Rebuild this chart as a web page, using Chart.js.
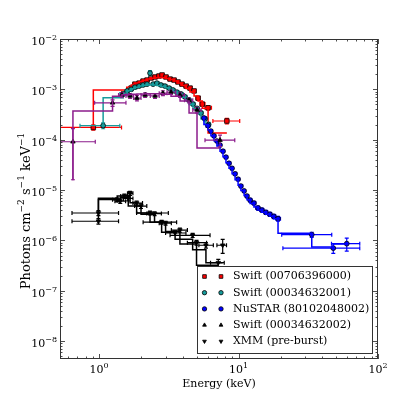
<!DOCTYPE html>
<html>
<head>
<meta charset="utf-8">
<script src="https://cdn.jsdelivr.net/npm/chart.js@4.4.1/dist/chart.umd.min.js"></script>
<style>
  html, body { margin: 0; padding: 0; background: #fff; }
  #wrap { width: 399px; height: 399px; }
</style>
</head>
<body>
<div id="wrap"><canvas id="spec" width="399" height="399"></canvas></div>
<script>
// Swift (00706396000)
const redE    = [0.91, 1.58, 1.70, 1.81, 1.94, 2.07, 2.21, 2.36, 2.52, 2.69, 2.83, 3.02, 3.23, 3.45, 3.68, 3.93, 4.21, 4.49, 4.80, 5.13, 5.50, 6.05, 8.25];
const redELo  = [0.52, 1.45, 1.64, 1.75, 1.88, 2.00, 2.14, 2.28, 2.44, 2.60, 2.76, 2.92, 3.12, 3.34, 3.56, 3.80, 4.07, 4.35, 4.65, 4.96, 5.30, 5.75, 6.55];
const redEHi  = [1.45, 1.64, 1.75, 1.88, 2.00, 2.14, 2.28, 2.44, 2.60, 2.76, 2.92, 3.12, 3.34, 3.56, 3.80, 4.07, 4.35, 4.65, 4.96, 5.30, 5.75, 6.40, 10.2];
const redF    = [1.75e-4, 8.6e-4, 1.06e-3, 1.27e-3, 1.33e-3, 1.46e-3, 1.53e-3, 1.68e-3, 1.76e-3, 1.84e-3, 1.93e-3, 1.76e-3, 1.60e-3, 1.53e-3, 1.40e-3, 1.27e-3, 1.16e-3, 1.06e-3, 9.3e-4, 6.7e-4, 5.1e-4, 4.3e-4, 2.35e-4];
const redFErr = [2e-5, 6e-5, 7e-5, 8e-5, 8e-5, 8e-5, 9e-5, 9e-5, 1e-4, 1e-4, 1e-4, 1e-4, 9e-5, 9e-5, 8e-5, 8e-5, 7e-5, 7e-5, 6e-5, 5e-5, 4e-5, 4e-5, 3e-5];
const redM    = [1.8e-4, 9.7e-4, 1.10e-3, 1.22e-3, 1.33e-3, 1.43e-3, 1.52e-3, 1.60e-3, 1.66e-3, 1.70e-3, 1.72e-3, 1.70e-3, 1.65e-3, 1.57e-3, 1.46e-3, 1.33e-3, 1.19e-3, 1.04e-3, 8.9e-4, 7.4e-4, 5.9e-4, 4.2e-4, 1.36e-4];

// Swift (00034632001)
const tealE    = [1.07, 1.49, 1.59, 1.70, 1.81, 1.94, 2.07, 2.21, 2.32, 2.44, 2.60, 2.78, 2.97, 3.18, 3.39, 3.62, 3.87, 4.13, 4.42, 4.72, 5.04, 5.38, 5.76, 6.10];
const tealELo  = [0.73, 1.41, 1.54, 1.64, 1.75, 1.88, 2.00, 2.14, 2.27, 2.38, 2.52, 2.69, 2.88, 3.07, 3.28, 3.50, 3.74, 4.00, 4.27, 4.57, 4.88, 5.21, 5.57, 5.93];
const tealEHi  = [1.41, 1.54, 1.64, 1.75, 1.88, 2.00, 2.14, 2.27, 2.38, 2.52, 2.69, 2.88, 3.07, 3.28, 3.50, 3.74, 4.00, 4.27, 4.57, 4.88, 5.21, 5.57, 5.93, 6.30];
const tealF    = [1.9e-4, 8.1e-4, 9.3e-4, 1.0e-3, 1.1e-3, 1.16e-3, 1.22e-3, 1.27e-3, 2.1e-3, 1.27e-3, 1.33e-3, 1.22e-3, 1.16e-3, 1.06e-3, 9.7e-4, 8.8e-4, 8.1e-4, 7.1e-4, 6.1e-4, 5.1e-4, 4.2e-4, 3.4e-4, 2.6e-4, 2.0e-4];
const tealFErr = [2.5e-5, 6e-5, 6e-5, 7e-5, 7e-5, 7e-5, 8e-5, 8e-5, 2.5e-4, 8e-5, 8e-5, 8e-5, 7e-5, 7e-5, 6e-5, 6e-5, 5e-5, 5e-5, 4e-5, 4e-5, 3e-5, 3e-5, 2.5e-5, 2e-5];
const tealM    = [1.9e-4, 6.8e-4, 8.4e-4, 9.4e-4, 1.03e-3, 1.10e-3, 1.16e-3, 1.20e-3, 1.22e-3, 1.23e-3, 1.22e-3, 1.19e-3, 1.14e-3, 1.07e-3, 9.9e-4, 9.0e-4, 8.0e-4, 7.0e-4, 6.0e-4, 5.0e-4, 4.1e-4, 3.3e-4, 2.6e-4, 2.0e-4];

// NuSTAR (80102048002)
const blueE    = [5.65, 6.04, 6.34, 6.67, 7.0, 7.37, 7.74, 8.13, 8.55, 8.99, 9.45, 9.93, 10.4, 10.97, 11.5, 12.1, 12.9, 13.8, 14.7, 15.7, 16.8, 17.9, 19.2, 33.5, 47.8, 59.7];
const blueELo  = [5.5, 5.85, 6.2, 6.5, 6.85, 7.2, 7.55, 7.95, 8.35, 8.8, 9.2, 9.7, 10.2, 10.7, 11.2, 11.8, 12.5, 13.3, 14.2, 15.2, 16.2, 17.3, 18.5, 20.4, 20.8, 46.4];
const blueEHi  = [5.85, 6.2, 6.5, 6.85, 7.2, 7.55, 7.95, 8.35, 8.8, 9.2, 9.7, 10.2, 10.7, 11.2, 11.8, 12.5, 13.3, 14.2, 15.2, 16.2, 17.3, 18.5, 20.0, 46.6, 74, 74];
const blueF    = [2.7e-4, 1.9e-4, 1.48e-4, 1.19e-4, 9.4e-5, 7.8e-5, 5.9e-5, 4.5e-5, 3.4e-5, 2.7e-5, 2.1e-5, 1.64e-5, 1.2e-5, 9.6e-6, 7.6e-6, 6.3e-6, 5.5e-6, 4.4e-6, 4.0e-6, 3.6e-6, 3.3e-6, 3.0e-6, 2.7e-6, 1.3e-6, 7.0e-7, 8.6e-7];
const blueFErr = [1.5e-5, 1.1e-5, 9e-6, 7e-6, 5.5e-6, 4.5e-6, 3.5e-6, 2.7e-6, 2.1e-6, 1.7e-6, 1.3e-6, 1.0e-6, 8e-7, 6.5e-7, 5.5e-7, 5e-7, 4.5e-7, 4e-7, 3.5e-7, 3.3e-7, 3e-7, 3e-7, 3e-7, 1.5e-7, 1.5e-7, 2.5e-7];
const blueM    = [2.6e-4, 2.0e-4, 1.55e-4, 1.2e-4, 9.5e-5, 7.5e-5, 5.9e-5, 4.6e-5, 3.5e-5, 2.7e-5, 2.1e-5, 1.6e-5, 1.25e-5, 9.8e-6, 7.8e-6, 6.4e-6, 5.4e-6, 4.6e-6, 4.0e-6, 3.6e-6, 3.3e-6, 3.0e-6, 2.7e-6, 1.39e-6, 7.4e-7, 8.5e-7];

// Swift (00034632002)
const purpE    = [0.65, 1.25, 1.46, 1.67, 1.87, 2.14, 2.52, 2.87, 3.28, 3.81, 4.42, 5.04, 7.37];
const purpELo  = [0.53, 0.93, 1.38, 1.56, 1.77, 2.00, 2.33, 2.70, 3.07, 3.55, 4.10, 4.70, 5.75];
const purpEHi  = [0.94, 1.56, 1.56, 1.77, 2.00, 2.33, 2.70, 3.07, 3.55, 4.10, 4.70, 5.40, 9.40];
const purpF    = [9.1e-5, 5.4e-4, 7.7e-4, 7.4e-4, 6.7e-4, 7.7e-4, 7.4e-4, 8.4e-4, 8.8e-4, 7.7e-4, 6.1e-4, 3.9e-4, 9.8e-5];
const purpFErr = [7.5e-5, 8e-5, 9e-5, 8e-5, 8e-5, 8e-5, 8e-5, 9e-5, 9e-5, 8e-5, 7e-5, 5e-5, 2.5e-5];
const purpM    = [1.57e-5, 3.7e-4, 7.3e-4, 7.8e-4, 8.0e-4, 8.1e-4, 8.2e-4, 8.2e-4, 8.0e-4, 7.3e-4, 5.9e-4, 3.4e-4, 6.8e-5];

// XMM (pre-burst), two cameras
const xmmAE    = [0.99, 1.35, 1.52, 1.67, 1.86, 2.32, 2.81, 3.51, 4.69, 5.84, 7.7];
const xmmAELo  = [0.64, 1.25, 1.43, 1.60, 1.75, 1.86, 2.07, 3.00, 3.23, 5.20, 7.00];
const xmmAEHi  = [1.38, 1.43, 1.60, 1.75, 2.05, 3.14, 3.60, 4.20, 6.25, 6.60, 8.20];
const xmmAF    = [3.5e-6, 6.4e-6, 7.6e-6, 8.6e-6, 5.5e-6, 3.5e-6, 2.3e-6, 1.4e-6, 1.26e-6, 8.0e-7, 8.0e-7];
const xmmAFErr = [4e-7, 6e-7, 7e-7, 8e-7, 5e-7, 3e-7, 2e-7, 1.5e-7, 1.2e-7, 1e-7, 2.5e-7];
const xmmAM    = [3.5e-6, 6.9e-6, 7.6e-6, 7.8e-6, 5.6e-6, 3.5e-6, 2.3e-6, 1.45e-6, 1.05e-6, 6.5e-7, 3.6e-7];

const xmmBE    = [0.99, 1.42, 1.62, 2.0, 2.5, 3.0, 3.8, 5.0, 7.16];
const xmmBELo  = [0.64, 1.30, 1.50, 1.80, 2.20, 2.70, 3.30, 4.30, 6.30];
const xmmBEHi  = [1.38, 1.55, 1.75, 2.20, 2.80, 3.30, 4.30, 5.90, 7.90];
const xmmBF    = [2.4e-6, 6.0e-6, 6.8e-6, 4.8e-6, 3.4e-6, 2.2e-6, 1.6e-6, 9.0e-7, 3.6e-7];
const xmmBFErr = [3e-7, 6e-7, 7e-7, 5e-7, 3e-7, 2e-7, 1.5e-7, 1e-7, 6e-8];
const xmmBM    = [2.4e-6, 6.5e-6, 7.0e-6, 4.8e-6, 3.3e-6, 2.3e-6, 1.5e-6, 8.5e-7, 3.2e-7];

const xTickExp = [0, 1, 2];
const yTickExp = [-8, -7, -6, -5, -4, -3, -2];
const legendLabels = ["Swift (00706396000)", "Swift (00034632001)", "NuSTAR (80102048002)", "Swift (00034632002)", "XMM (pre-burst)"];

const FONT = '"DejaVu Serif", "Liberation Serif", serif';
const RED = "#ff0000", TEAL = "#169b9b", BLUE = "#0000ff", PURP = "#8c1c8c", BLK = "#000000";

function points(E, lo, hi, F, err) {
  return E.map((e, i) => ({ x: e, y: F[i], xlo: lo[i], xhi: hi[i], yerr: err[i] }));
}
function model(E, M) {
  return E.map((e, i) => ({ x: e, y: M[i] }));
}

function dataSet(label, data, color, style, radius, rot) {
  return {
    label, data, showLine: false, errColor: color,
    pointStyle: style, pointRadius: radius, pointRotation: rot || 0,
    pointBackgroundColor: style === "triangle" ? BLK : color,
    pointBorderColor: BLK, pointBorderWidth: 0.8
  };
}
function stepSet(data, color) {
  return {
    data, showLine: true, stepped: "after", borderColor: color, borderWidth: 1.5,
    pointRadius: 0, fill: false
  };
}

const sets = [
  dataSet(legendLabels[0], points(redE, redELo, redEHi, redF, redFErr), RED, "rect", 3.2),
  stepSet(model(redE, redM), RED),
  dataSet(legendLabels[1], points(tealE, tealELo, tealEHi, tealF, tealFErr), TEAL, "circle", 2.4),
  stepSet(model(tealE, tealM), TEAL),
  dataSet(legendLabels[2], points(blueE, blueELo, blueEHi, blueF, blueFErr), BLUE, "circle", 2.4),
  stepSet(model(blueE, blueM), BLUE),
  dataSet(legendLabels[3], points(purpE, purpELo, purpEHi, purpF, purpFErr), PURP, "triangle", 2.6),
  stepSet(model(purpE, purpM), PURP),
  dataSet(legendLabels[4], points(xmmAE, xmmAELo, xmmAEHi, xmmAF, xmmAFErr), BLK, "triangle", 2.6, 180),
  stepSet(model(xmmAE, xmmAM), BLK),
  dataSet("", points(xmmBE, xmmBELo, xmmBEHi, xmmBF, xmmBFErr), BLK, "triangle", 2.6, 180),
  stepSet(model(xmmBE, xmmBM), BLK)
];
sets.forEach((s, i) => { s.order = sets.length - i; });

// error bars drawn under each data set's markers
const errorBars = {
  id: "errorBars",
  beforeDatasetDraw(chart, args) {
    const ds = chart.data.datasets[args.index];
    if (!ds.errColor) return;
    const { ctx, chartArea: a, scales: { x, y } } = chart;
    ctx.save();
    ctx.beginPath();
    ctx.rect(a.left, a.top, a.right - a.left, a.bottom - a.top);
    ctx.clip();
    ctx.strokeStyle = ds.errColor;
    ctx.lineWidth = 1.2;
    const cap = 2;
    ctx.beginPath();
    ds.data.forEach(p => {
      const px = x.getPixelForValue(p.x), py = y.getPixelForValue(p.y);
      const x0 = x.getPixelForValue(p.xlo), x1 = x.getPixelForValue(p.xhi);
      const lowV = p.y - p.yerr > 0 ? p.y - p.yerr : 1e-12;
      const y0 = y.getPixelForValue(lowV), y1 = y.getPixelForValue(p.y + p.yerr);
      ctx.moveTo(x0, py); ctx.lineTo(x1, py);
      ctx.moveTo(x0, py - cap); ctx.lineTo(x0, py + cap);
      ctx.moveTo(x1, py - cap); ctx.lineTo(x1, py + cap);
      ctx.moveTo(px, y0); ctx.lineTo(px, y1);
      ctx.moveTo(px - cap, y0); ctx.lineTo(px + cap, y0);
      ctx.moveTo(px - cap, y1); ctx.lineTo(px + cap, y1);
    });
    ctx.stroke();
    ctx.restore();
  }
};

function drawPow(ctx, exp, x, y, align) {
  const base = "10", sup = exp < 0 ? "\u2212" + Math.abs(exp) : String(exp);
  ctx.font = "11px " + FONT;
  const wb = ctx.measureText(base).width;
  ctx.font = "8px " + FONT;
  const ws = ctx.measureText(sup).width;
  let left = align === "right" ? x - wb - ws : x - (wb + ws) / 2;
  ctx.textAlign = "left";
  ctx.textBaseline = "alphabetic";
  ctx.font = "11px " + FONT;
  ctx.fillText(base, left, y);
  ctx.font = "8px " + FONT;
  ctx.fillText(sup, left + wb, y - 5);
}

function drawRich(ctx, parts, cx, cy, big, small) {
  let total = 0;
  parts.forEach(p => {
    ctx.font = (p.sup ? small : big) + "px " + FONT;
    p.w = ctx.measureText(p.t).width;
    total += p.w;
  });
  let xx = cx - total / 2;
  ctx.textAlign = "left";
  ctx.textBaseline = "alphabetic";
  parts.forEach(p => {
    ctx.font = (p.sup ? small : big) + "px " + FONT;
    ctx.fillText(p.t, xx, p.sup ? cy - Math.round(big * 0.45) : cy);
    xx += p.w;
  });
}

const axesDeco = {
  id: "axesDeco",
  afterDraw(chart) {
    const { ctx, chartArea: a, scales: { x, y } } = chart;
    ctx.save();
    ctx.strokeStyle = "#222";
    ctx.lineWidth = 0.8;
    ctx.beginPath();
    // x ticks, inside, bottom and top
    for (let e = -1; e <= 2; e++) {
      for (let m = 1; m <= 9; m++) {
        const v = m * Math.pow(10, e);
        if (v < x.min || v > x.max) continue;
        const px = Math.round(x.getPixelForValue(v)) + 0.5;
        const len = m === 1 ? 5 : 2.5;
        ctx.moveTo(px, a.bottom); ctx.lineTo(px, a.bottom - len);
        ctx.moveTo(px, a.top); ctx.lineTo(px, a.top + len);
      }
    }
    for (let e = -9; e <= -2; e++) {
      for (let m = 1; m <= 9; m++) {
        const v = m * Math.pow(10, e);
        if (v < y.min || v > y.max * 1.0001) continue;
        const py = Math.round(y.getPixelForValue(v)) + 0.5;
        const len = m === 1 ? 5 : 2.5;
        ctx.moveTo(a.left, py); ctx.lineTo(a.left + len, py);
        ctx.moveTo(a.right, py); ctx.lineTo(a.right - len, py);
      }
    }
    ctx.stroke();
    ctx.strokeStyle = "#333";
    ctx.lineWidth = 1;
    ctx.strokeRect(a.left + 0.5, a.top + 0.5, a.right - a.left - 1, a.bottom - a.top - 1);

    ctx.fillStyle = "#000";
    xTickExp.forEach(e => drawPow(ctx, e, x.getPixelForValue(Math.pow(10, e)), 373, "center"));
    yTickExp.forEach(e => drawPow(ctx, e, 57, y.getPixelForValue(Math.pow(10, e)) + 6, "right"));

    drawRich(ctx, [{ t: "Energy (keV)" }], (a.left + a.right) / 2, 387, 11, 8);

    ctx.save();
    ctx.translate(30, (a.top + a.bottom) / 2 + 12);
    ctx.rotate(-Math.PI / 2);
    drawRich(ctx, [
      { t: "Photons cm" }, { t: "\u22122", sup: true },
      { t: " s" }, { t: "\u22121", sup: true },
      { t: " keV" }, { t: "\u22121", sup: true }
    ], 0, 0, 13, 9);
    ctx.restore();

    // legend
    const lx = 197, ly = 266, lw = 175, lh = 87;
    ctx.fillStyle = "#fff";
    ctx.fillRect(lx, ly, lw, lh);
    ctx.strokeStyle = "#333";
    ctx.lineWidth = 1;
    ctx.strokeRect(lx + 0.5, ly + 0.5, lw, lh);
    const shown = chart.data.datasets.filter(d => d.errColor && d.label);
    shown.forEach((d, i) => {
      const ry = 276.5 + i * 16.2;
      [204.5, 221].forEach(mx => {
        ctx.fillStyle = d.pointBackgroundColor;
        ctx.strokeStyle = BLK;
        ctx.lineWidth = 0.8;
        Chart.helpers.drawPoint(ctx, {
          pointStyle: d.pointStyle, radius: d.pointStyle === "rect" ? 2.6 : 2.2,
          rotation: d.pointRotation, borderWidth: 0.8
        }, mx, ry);
      });
      ctx.fillStyle = "#000";
      ctx.font = "11px " + FONT;
      ctx.textAlign = "left";
      ctx.textBaseline = "middle";
      ctx.fillText(d.label, 233, ry);
    });
    ctx.restore();
  }
};

new Chart(document.getElementById("spec"), {
  type: "line",
  data: { datasets: sets },
  options: {
    responsive: false,
    animation: false,
    devicePixelRatio: 1,
    layout: { padding: { left: 60, right: 21, top: 39, bottom: 40 } },
    scales: {
      x: { type: "logarithmic", min: 0.525, max: 100, display: false },
      y: { type: "logarithmic", min: 4.4e-9, max: 1e-2, display: false }
    },
    plugins: { legend: { display: false }, tooltip: { enabled: false } }
  },
  plugins: [errorBars, axesDeco]
});
</script>
</body>
</html>
